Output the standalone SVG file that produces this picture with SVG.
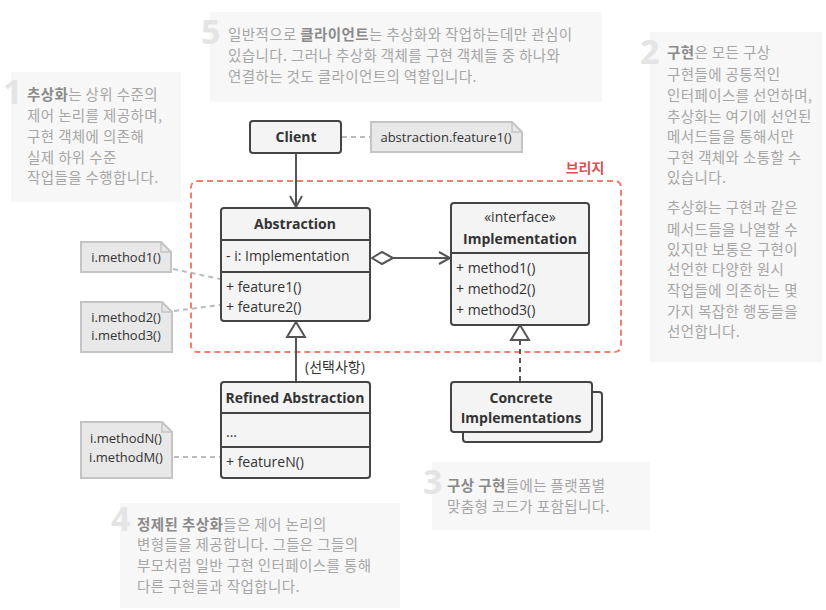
<svg xmlns="http://www.w3.org/2000/svg" width="826" height="610" viewBox="0 0 826 610">
<defs>
<style>
.bg{fill:#ffffff}
.ann{fill:#f7f7f7}
.num{font-family:"Open Sans","Noto Sans",sans-serif;font-weight:bold;fill:#e4e4e4;font-size:34px}
.at{font-family:"Noto Sans CJK KR","Noto Sans",sans-serif;font-size:14.5px;letter-spacing:0.4px;fill:#a6a6a6}
.at tspan.b{font-weight:bold;fill:#8a8a8a}
.box{fill:#f4f4f4;stroke:#444;stroke-width:2}
.div{stroke:#444;stroke-width:2}
.t{font-family:"Open Sans","Noto Sans","Noto Sans CJK KR",sans-serif;font-size:14px;fill:#333}
.tb{font-family:"Open Sans","Noto Sans",sans-serif;font-size:14px;font-weight:bold;fill:#333}
.note{fill:#e8e8e8;stroke:#c4c4c4;stroke-width:2}
.nt{font-family:"Open Sans","Noto Sans",sans-serif;font-size:13px;fill:#333}
.ln{stroke:#555;stroke-width:2;fill:none}
.dash{stroke:#555;stroke-width:2;fill:none;stroke-dasharray:5 4}
.ndash{stroke:#bbb;stroke-width:2;fill:none;stroke-dasharray:5 4}
.bridge{fill:none;stroke:#f0806e;stroke-width:2;stroke-dasharray:6 4}
</style>
<marker id="open" markerWidth="14" markerHeight="14" refX="12" refY="7" orient="auto" markerUnits="userSpaceOnUse">
<path d="M1,1 L12,7 L1,13" fill="none" stroke="#555" stroke-width="2"/>
</marker>
</defs>
<rect class="bg" x="0" y="0" width="826" height="610"/>

<g id="annotations">
<g id="ann1">
<rect class="ann" x="11" y="72" width="170" height="130"/>
<text class="num" x="3" y="104">1</text>
<text class="at" x="27" y="100"><tspan class="b">추상화</tspan>는 상위 수준의</text>
<text class="at" x="27" y="121">제어 논리를 제공하며,</text>
<text class="at" x="27" y="142">구현 객체에 의존해</text>
<text class="at" x="27" y="163">실제 하위 수준</text>
<text class="at" x="27" y="183">작업들을 수행합니다.</text>
</g>
<g id="ann5">
<rect class="ann" x="210" y="12" width="392" height="90"/>
<text class="num" x="201" y="44">5</text>
<text class="at" x="228" y="40">일반적으로 <tspan class="b">클라이언트</tspan>는 추상화와 작업하는데만 관심이</text>
<text class="at" x="228" y="61">있습니다. 그러나 추상화 객체를 구현 객체들 중 하나와</text>
<text class="at" x="228" y="82">연결하는 것도 클라이언트의 역할입니다.</text>
</g>
<g id="ann2">
<rect class="ann" x="650" y="32" width="172" height="330"/>
<text class="num" x="640" y="64">2</text>
<text class="at" x="667" y="58"><tspan class="b">구현</tspan>은 모든 구상</text>
<text class="at" x="667" y="80">구현들에 공통적인</text>
<text class="at" x="667" y="101">인터페이스를 선언하며,</text>
<text class="at" x="667" y="122">추상화는 여기에 선언된</text>
<text class="at" x="667" y="142">메서드들을 통해서만</text>
<text class="at" x="667" y="163">구현 객체와 소통할 수</text>
<text class="at" x="667" y="183">있습니다.</text>
<text class="at" x="667" y="213">추상화는 구현과 같은</text>
<text class="at" x="667" y="235">메서드들을 나열할 수</text>
<text class="at" x="667" y="255">있지만 보통은 구현이</text>
<text class="at" x="667" y="275">선언한 다양한 원시</text>
<text class="at" x="667" y="296">작업들에 의존하는 몇</text>
<text class="at" x="667" y="317">가지 복잡한 행동들을</text>
<text class="at" x="667" y="337">선언합니다.</text>
</g>
<g id="ann3">
<rect class="ann" x="432" y="462" width="218" height="68"/>
<text class="num" x="423" y="494">3</text>
<text class="at" x="447" y="491"><tspan class="b">구상 구현</tspan>들에는 플랫폼별</text>
<text class="at" x="447" y="512">맞춤형 코드가 포함됩니다.</text>
</g>
<g id="ann4">
<rect class="ann" x="120" y="503" width="280" height="105"/>
<text class="num" x="111" y="531">4</text>
<text class="at" x="137" y="530"><tspan class="b">정제된 추상화</tspan>들은 제어 논리의</text>
<text class="at" x="137" y="550">변형들을 제공합니다. 그들은 그들의</text>
<text class="at" x="137" y="571">부모처럼 일반 구현 인터페이스를 통해</text>
<text class="at" x="137" y="592">다른 구현들과 작업합니다.</text>
</g>
</g>

<g id="bridge">
<rect class="bridge" x="191" y="181" width="430" height="171" rx="6"/>
<text x="585" y="173" text-anchor="middle" font-family="'Noto Sans CJK KR','Noto Sans',sans-serif" font-size="14" font-weight="bold" fill="#d9534f">브리지</text>
</g>

<g id="connectors">
<line class="ln" x1="296" y1="154" x2="296" y2="207" marker-end="url(#open)"/>
<line class="ndash" x1="342" y1="137" x2="370" y2="137"/>
<path d="M372,258 L382,252 L393,258 L382,264 Z" fill="#fff" stroke="#555" stroke-width="2"/>
<line class="ln" x1="393" y1="258" x2="450" y2="258" marker-end="url(#open)"/>
<path d="M296,322 L305,337 L287,337 Z" fill="#fff" stroke="#555" stroke-width="2"/>
<line class="ln" x1="296" y1="337" x2="296" y2="382"/>
<path d="M520,325 L529,340 L511,340 Z" fill="#fff" stroke="#555" stroke-width="2"/>
<line class="dash" x1="520" y1="340" x2="520" y2="381"/>
<line class="ndash" x1="173" y1="269" x2="220" y2="279"/>
<line class="ndash" x1="174" y1="311" x2="220" y2="305"/>
<line class="ndash" x1="174" y1="457" x2="220" y2="457"/>
</g>

<g id="client">
<rect class="box" x="250" y="121" width="91" height="32" rx="3"/>
<text class="tb" x="296" y="142" text-anchor="middle">Client</text>
</g>
<g id="note-feature1">
<path class="note" d="M371,122 H512 L522,132 V152 H371 Z"/>
<path d="M512,122 V132 H522" fill="none" stroke="#c4c4c4" stroke-width="1.5"/>
<text class="nt" x="446" y="142" text-anchor="middle">abstraction.feature1()</text>
</g>

<g id="abstraction">
<rect class="box" x="221" y="208" width="149" height="113" rx="3"/>
<line class="div" x1="221" y1="240" x2="370" y2="240"/>
<line class="div" x1="221" y1="272" x2="370" y2="272"/>
<text class="tb" x="295" y="229" text-anchor="middle">Abstraction</text>
<text class="t" x="226" y="261">- i: Implementation</text>
<text class="t" x="226" y="292">+ feature1()</text>
<text class="t" x="226" y="312">+ feature2()</text>
</g>

<g id="implementation">
<rect class="box" x="451" y="203" width="138" height="122" rx="3"/>
<line class="div" x1="451" y1="253" x2="589" y2="253"/>
<text class="t" x="520" y="222" text-anchor="middle">«interface»</text>
<text class="tb" x="520" y="244" text-anchor="middle">Implementation</text>
<text class="t" x="456" y="273">+ method1()</text>
<text class="t" x="456" y="294">+ method2()</text>
<text class="t" x="456" y="315">+ method3()</text>
</g>

<g id="refined">
<rect class="box" x="221" y="382" width="149" height="96" rx="3"/>
<line class="div" x1="221" y1="413" x2="370" y2="413"/>
<line class="div" x1="221" y1="447" x2="370" y2="447"/>
<text class="tb" x="295" y="403" text-anchor="middle">Refined Abstraction</text>
<text class="t" x="226" y="437">...</text>
<text class="t" x="226" y="467">+ featureN()</text>
</g>
<text class="t" x="305" y="372">(선택사항)</text>

<g id="concrete">
<rect class="box" x="463" y="392" width="139" height="50" rx="3"/>
<rect class="box" x="451" y="382" width="141" height="50" rx="3"/>
<text class="tb" x="521" y="403" text-anchor="middle">Concrete</text>
<text class="tb" x="521" y="423" text-anchor="middle">Implementations</text>
</g>

<g id="note-m1">
<path class="note" d="M81,242 H161 L171,252 V272 H81 Z"/>
<path d="M161,242 V252 H171" fill="none" stroke="#c4c4c4" stroke-width="1.5"/>
<text class="nt" x="126" y="262" text-anchor="middle">i.method1()</text>
</g>
<g id="note-m23">
<path class="note" d="M81,302 H162 L172,312 V352 H81 Z"/>
<path d="M162,302 V312 H172" fill="none" stroke="#c4c4c4" stroke-width="1.5"/>
<text class="nt" x="126" y="322" text-anchor="middle">i.method2()</text>
<text class="nt" x="126" y="340" text-anchor="middle">i.method3()</text>
</g>
<g id="note-mnm">
<path class="note" d="M81,422 H162 L172,432 V478 H81 Z"/>
<path d="M162,422 V432 H172" fill="none" stroke="#c4c4c4" stroke-width="1.5"/>
<text class="nt" x="126" y="443" text-anchor="middle">i.methodN()</text>
<text class="nt" x="126" y="462" text-anchor="middle">i.methodM()</text>
</g>
</svg>
